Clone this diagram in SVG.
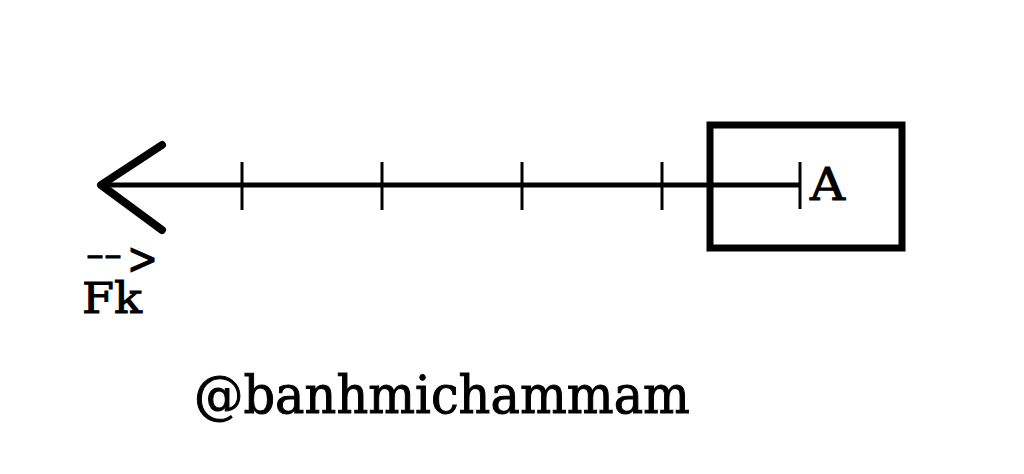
<svg xmlns="http://www.w3.org/2000/svg" width="1024" height="474" viewBox="0 0 1024 474">
<style>
.t{font-family:"DejaVu Serif","Liberation Serif",serif;fill:#000;stroke:#000;stroke-width:1}
.ln{stroke:#000;fill:none}
</style>
<rect width="1024" height="474" fill="#fff"/>
<g id="connectors">
<line class="ln" x1="100" y1="185" x2="800" y2="185" stroke-width="5"/>
<polyline class="ln" points="162,145 101,185 162,230" stroke-width="8" stroke-linecap="round" stroke-linejoin="round"/>
<g stroke-width="3" class="ln">
<line x1="242" y1="162" x2="242" y2="210"/>
<line x1="382" y1="162" x2="382" y2="210"/>
<line x1="522" y1="162" x2="522" y2="210"/>
<line x1="662" y1="162" x2="662" y2="210"/>
<line x1="800" y1="162" x2="800" y2="209"/>
</g>
</g>
<g id="nodeA">
<rect class="ln" x="710" y="125" width="192" height="123" stroke-width="7"/>
<text class="t" x="810" y="200" font-size="44" textLength="35" lengthAdjust="spacingAndGlyphs">A</text>
</g>
<g id="labelFk">
<text class="t" x="86" y="265" font-size="30" stroke-width="1.5" textLength="36" lengthAdjust="spacingAndGlyphs">--</text>
<text class="t" x="127" y="274" font-size="44" stroke-width="0" textLength="31" lengthAdjust="spacingAndGlyphs">&gt;</text>
<text class="t" x="82" y="313" font-size="43" textLength="60" lengthAdjust="spacingAndGlyphs">Fk</text>
</g>
<g id="credit">
<text class="t" x="194" y="413" font-size="52" textLength="496" lengthAdjust="spacingAndGlyphs">@banhmichammam</text>
</g>
</svg>
